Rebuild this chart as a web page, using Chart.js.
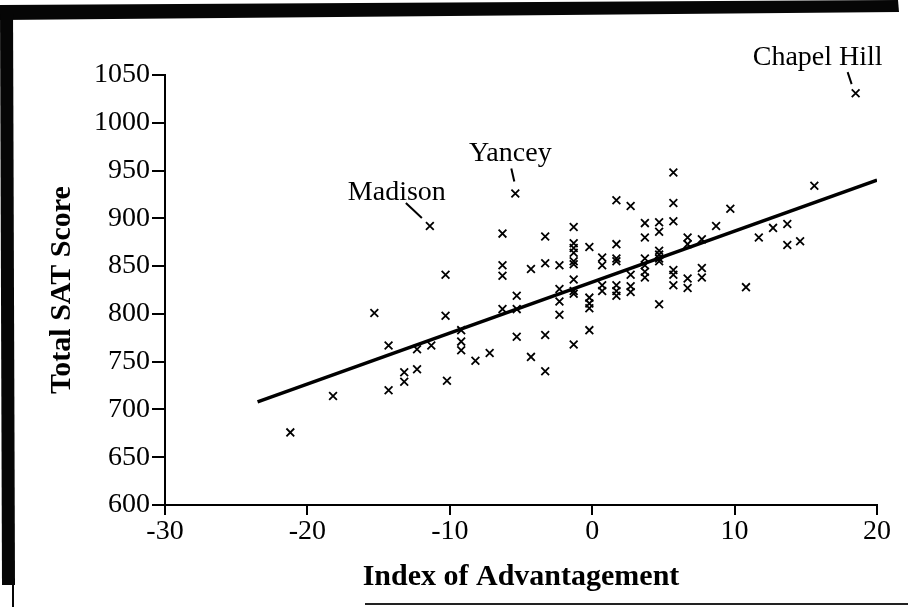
<!DOCTYPE html>
<html>
<head>
<meta charset="utf-8">
<script src="https://cdn.jsdelivr.net/npm/chart.js@4.4.1/dist/chart.umd.min.js"></script>
<style>
  html, body { margin: 0; padding: 0; background: #fff; }
  #wrap { position: relative; width: 908px; height: 607px; }
</style>
</head>
<body>
<div id="wrap"><canvas id="sat-chart" width="908" height="607"></canvas></div>
<script>
// Index of Advantagement (x) vs Total SAT Score (y), one entry per school district
const advantage = [
  -21.2, -18.2, -15.3, -14.3, -14.3, -13.2, -13.2, -12.3, -12.3, -11.4, -11.3,
  -10.3, -10.3, -10.2, -9.2, -9.2, -9.2, -8.2, -7.2,
  -6.3, -6.3, -6.3, -6.3, -5.4, -5.3, -5.3, -5.3, -4.3, -4.3,
  -3.3, -3.3, -3.3, -3.3, -2.3, -2.3, -2.3, -2.3,
  -1.3, -1.3, -1.3, -1.3, -1.3, -1.3, -1.3, -1.3, -1.3, -1.3,
  -0.2, -0.2, -0.2, -0.2, -0.2,
  0.7, 0.7, 0.7, 0.7,
  1.7, 1.7, 1.7, 1.7, 1.7, 1.7, 1.7,
  2.7, 2.7, 2.7, 2.7,
  3.7, 3.7, 3.7, 3.7, 3.7, 3.7,
  4.7, 4.7, 4.7, 4.7, 4.7, 4.7, 4.7,
  5.7, 5.7, 5.7, 5.7, 5.7, 5.7,
  6.7, 6.7, 6.7, 6.7,
  7.7, 7.7, 7.7,
  8.7, 9.7, 10.8, 11.7, 12.7, 13.7, 13.7, 14.6, 15.6, 18.5,
];
const satScore = [
  676, 714, 801, 767, 720, 739, 729, 763, 742, 892, 767,
  841, 798, 730, 783, 771, 762, 751, 759,
  884, 851, 840, 805, 926, 819, 805, 776, 847, 755,
  881, 853, 778, 740, 851, 826, 813, 799,
  891, 874, 869, 864, 855, 852, 836, 824, 821, 768,
  870, 817, 811, 806, 783,
  859, 851, 830, 824,
  919, 873, 858, 855, 830, 824, 819,
  913, 841, 829, 823,
  895, 880, 858, 851, 844, 838,
  896, 886, 866, 862, 858, 855, 810,
  948, 916, 897, 846, 841, 830,
  880, 873, 837, 827,
  878, 848, 838,
  892, 910, 828, 880, 890, 894, 872, 876, 934, 1031,
];

// Fitted regression line, read at its two ends
const fitX = [-23.5, 20];
const fitY = [708, 940];

// Named districts
const labelNames = ['Chapel Hill', 'Yancey', 'Madison'];
const labelX = [18.5, -5.4, -11.4];
const labelY = [1031, 926, 892];

const xTicks = [-30, -20, -10, 0, 10, 20];
const yTicks = [600, 650, 700, 750, 800, 850, 900, 950, 1000, 1050];

// label placement relative to the marked point (px): text centre, baseline, leader line
const labelStyle = {
  'Chapel Hill': { dx: -38, dy: -28, l: [-8, -21, -4, -9] },
  'Yancey': { dx: -5, dy: -32, l: [-4, -25, -1, -12] },
  'Madison': { dx: -33, dy: -26, l: [-24, -23, -8, -8] },
};

const serif = '"Liberation Serif", "DejaVu Serif", serif';

const points = advantage.map((x, i) => ({ x, y: satScore[i] }));
const fitLine = fitX.map((x, i) => ({ x, y: fitY[i] }));

// scanned page frame around the figure
const scanFrame = {
  id: 'scanFrame',
  beforeDraw(chart) {
    const c = chart.ctx;
    c.save();
    c.fillStyle = '#fff';
    c.fillRect(0, 0, chart.width, chart.height);
    c.fillStyle = '#060606';
    c.beginPath();
    c.moveTo(0, 5); c.lineTo(898, 0); c.lineTo(899, 12); c.lineTo(0, 20);
    c.closePath(); c.fill();
    c.beginPath();
    c.moveTo(0, 5); c.lineTo(13, 5); c.lineTo(15, 585); c.lineTo(2, 585);
    c.closePath(); c.fill();
    c.fillRect(12, 583, 2, 24);
    c.fillStyle = '#222';
    c.fillRect(365, 603, 543, 2);
    c.restore();
  },
};

const districtLabels = {
  id: 'districtLabels',
  afterDatasetsDraw(chart) {
    const c = chart.ctx;
    const xs = chart.scales.x, ys = chart.scales.y;
    c.save();
    c.fillStyle = '#000';
    c.strokeStyle = '#000';
    c.lineWidth = 2;
    c.font = '28px ' + serif;
    c.textAlign = 'center';
    c.textBaseline = 'alphabetic';
    labelNames.forEach((name, i) => {
      const px = xs.getPixelForValue(labelX[i]);
      const py = ys.getPixelForValue(labelY[i]);
      const s = labelStyle[name];
      c.fillText(name, px + s.dx, py + s.dy);
      c.beginPath();
      c.moveTo(px + s.l[0], py + s.l[1]);
      c.lineTo(px + s.l[2], py + s.l[3]);
      c.stroke();
    });
    c.restore();
  },
};

const ctx = document.getElementById('sat-chart');
new Chart(ctx, {
  data: {
    datasets: [
      {
        type: 'scatter',
        label: 'Districts',
        data: points,
        pointStyle: 'crossRot',
        pointRadius: 5.5,
        borderColor: '#000',
        borderWidth: 1.8,
      },
      {
        type: 'line',
        label: 'Fit',
        data: fitLine,
        borderColor: '#000',
        borderWidth: 3.5,
        pointRadius: 0,
        fill: false,
      },
    ],
  },
  options: {
    responsive: false,
    animation: false,
    layout: {
      padding: { top: 75, right: 31, bottom: 0, left: 0 },
    },
    scales: {
      x: {
        type: 'linear',
        min: -30,
        max: 20,
        afterBuildTicks: (s) => { s.ticks = xTicks.map(v => ({ value: v })); },
        afterFit: (s) => { s.height = 102; },
        grid: { drawOnChartArea: false, drawTicks: true, tickLength: 10, color: '#000', lineWidth: 2 },
        border: { display: true, color: '#000', width: 2 },
        ticks: {
          color: '#000', padding: 0, maxRotation: 0,
          font: { family: serif, size: 28 },
          callback: (v) => String(v),
        },
        title: {
          display: true,
          text: 'Index of Advantagement',
          color: '#000',
          font: { family: serif, size: 30, weight: 'bold' },
          padding: { top: 12, bottom: 12 },
        },
      },
      y: {
        type: 'linear',
        min: 600,
        max: 1050,
        afterBuildTicks: (s) => { s.ticks = yTicks.map(v => ({ value: v })); },
        afterFit: (s) => { s.width = 165; },
        grid: { drawOnChartArea: false, drawTicks: true, tickLength: 13, color: '#000', lineWidth: 2 },
        border: { display: true, color: '#000', width: 2 },
        ticks: {
          color: '#000', padding: 2,
          font: { family: serif, size: 28 },
          callback: (v) => String(v),
        },
        title: {
          display: true,
          text: 'Total SAT Score',
          color: '#000',
          font: { family: serif, size: 30, weight: 'bold' },
          padding: { top: 44, bottom: 44 },
        },
      },
    },
    plugins: {
      legend: { display: false },
      tooltip: { enabled: false },
    },
  },
  plugins: [scanFrame, districtLabels],
});
</script>
</body>
</html>
